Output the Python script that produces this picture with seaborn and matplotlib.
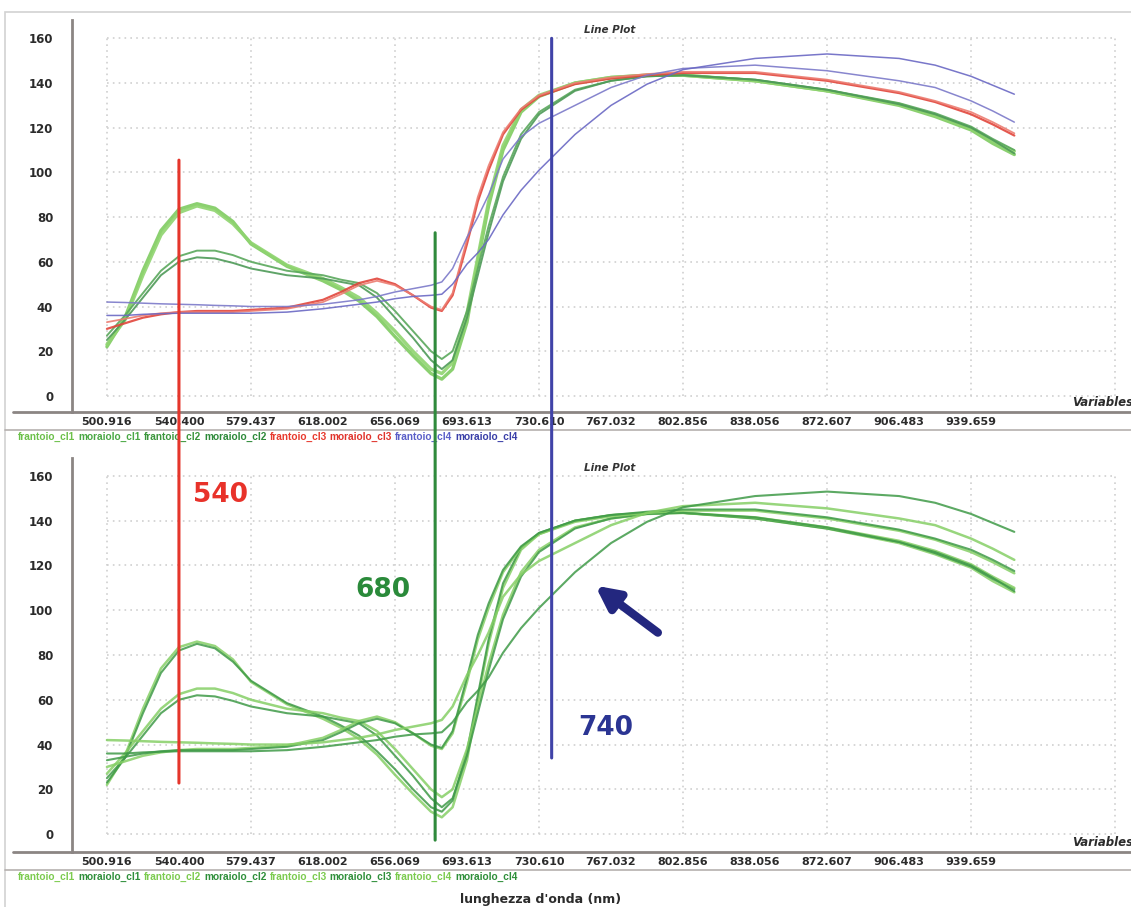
import numpy as np
import seaborn as sns
import matplotlib.pyplot as plt
from matplotlib.lines import Line2D
from matplotlib.patches import ConnectionPatch, Rectangle

sns.set_style("white")
plt.rcParams['font.family'] = ['DejaVu Sans']

# asse x: indice di variabile, etichette = lunghezze d'onda
wavelengths = [500.916, 540.400, 579.437, 618.002, 656.069, 693.613, 730.610,
               767.032, 802.856, 838.056, 872.607, 906.483, 939.659]
tick_var = [0, 20, 40, 60, 80, 100, 120, 140, 160, 180, 200, 220, 240, 260, 280]

var_idx = [0, 5, 10, 15, 20, 25, 30, 35, 40, 50, 60, 65, 70, 75, 80, 85, 90, 93,
           96, 100, 103, 106, 110, 115, 120, 130, 140, 150, 160, 180, 200, 220,
           230, 240, 246, 252]

frantoio_cl1 = [22, 35, 56, 74, 83.5, 86, 84, 78, 68, 58, 51.5, 47.5, 42.5, 35.5,
                26.5, 18, 10, 7.5, 12, 33, 60, 85, 110, 127, 134, 140, 142.5,
                143.5, 143.5, 141, 136.5, 130, 125, 119, 113, 108]
moraiolo_cl1 = [23, 34, 54, 72, 82, 85, 83, 77, 68.5, 58.5, 52.5, 48.5, 44, 37,
                29, 20, 12, 10, 15, 37, 62, 87, 112, 128, 134.5, 140, 142.5,
                143.5, 143.5, 141, 136.5, 130.5, 125.5, 119.5, 114, 109.5]
frantoio_cl2 = [27, 36, 46, 56, 62.5, 65, 65, 63, 60, 56, 54, 52, 50.5, 46,
                38, 29, 20, 16.5, 20, 38, 57, 76, 98, 117, 127, 137, 141,
                143, 143.5, 141.5, 137, 131, 126.5, 120.5, 115, 110]
moraiolo_cl2 = [25, 34, 44, 54, 60, 62, 61.5, 59.5, 57, 54, 52.5, 51, 49.5, 44,
                35, 26, 16, 12, 16, 35, 54, 73, 96, 115, 126, 136.5, 141,
                143, 143.5, 141.5, 137, 130.5, 126, 120, 114.5, 108.5]
frantoio_cl3 = [30, 32.5, 35, 36.5, 37.5, 38, 38, 38, 38.5, 39.5, 43, 46.5, 50.5, 52.5,
                50, 45, 39.5, 38, 45, 68, 87, 101, 117, 128, 134, 139.5, 142,
                143.5, 144.5, 144.5, 141, 135.5, 131.5, 126, 121.5, 116.5]
moraiolo_cl3 = [33, 34.5, 36, 37, 37.5, 37.5, 37.5, 37.5, 38, 39, 42, 45.5, 49.5, 51.5,
                49.5, 45, 40, 38.5, 46, 70, 89, 103, 118, 128.5, 134.5, 140, 142.5,
                144, 145, 145, 141.5, 136, 132, 127, 122.5, 117.5]
frantoio_cl4 = [42, 41.8, 41.5, 41.2, 41, 40.8, 40.5, 40.3, 40, 40, 41, 42, 43, 44.5,
                46.5, 48, 49.5, 51, 57, 71, 80, 90, 106, 116, 122, 130, 138,
                143.5, 146.5, 148, 145.5, 141, 138, 132, 127.5, 122.5]
moraiolo_cl4 = [36, 36, 36.5, 36.8, 37, 37, 37, 37, 37, 37.5, 39, 40, 41, 42,
                43.5, 44.5, 45, 45.5, 50, 59, 64, 70, 81, 92, 101, 117, 130,
                139.5, 146, 151, 153, 151, 148, 143, 139, 135]

names = ["frantoio_cl1", "moraiolo_cl1", "frantoio_cl2", "moraiolo_cl2",
         "frantoio_cl3", "moraiolo_cl3", "frantoio_cl4", "moraiolo_cl4"]
series = [frantoio_cl1, moraiolo_cl1, frantoio_cl2, moraiolo_cl2,
          frantoio_cl3, moraiolo_cl3, frantoio_cl4, moraiolo_cl4]

# linee verticali (nm) e loro estremi: (valore nel grafico sopra, valore nel grafico sotto)
mark_nm = [540.4, 677, 737]
mark_top = [105.5, 73, 160]
mark_bot = [22.8, -2.7, 34]
mark_colors = ["#e5352b", "#2f8a3c", "#4043a8"]

# stili
top_colors = ["#7fcb61", "#8fd46f", "#5aa85c", "#4e9a58",
              "#e2463c", "#ec7d72", "#7b79c9", "#6a68c4"]
top_widths = [2.4, 2.4, 1.4, 1.4, 1.6, 1.3, 1.1, 1.1]
top_legend_colors = ["#6cc04a", "#4aa844", "#3c963c", "#2e8a3a",
                     "#e83a2e", "#e0342c", "#5b5fc8", "#3a3fa8"]
bot_colors = ["#86cf66", "#3f9a48"] * 4
bot_legend_colors = ["#7ccb4f", "#2f8f3a"] * 4

axis_col = "#8b8583"
text_col = "#2b2b2b"
grid_col = "#d0d0d0"
legend_font = dict(family=['Liberation Sans'], weight='bold', size=7.3)

W, H = 1131, 907
fig = plt.figure(figsize=(W / 100, H / 100), dpi=100)
ax1 = fig.add_axes([72 / W, 1 - 412 / H, 1 - 72 / W, (412 - 20) / H])
ax2 = fig.add_axes([72 / W, 1 - 852 / H, 1 - 72 / W, (852 - 458) / H])

major_pos = tick_var[0::2]
minor_pos = tick_var[1::2]
labels = ["%.3f" % w for w in wavelengths] + ["", ""]
major_lab = labels[0::2]
minor_lab = labels[1::2]


def style_axis(ax, ylim):
    ax.set_xlim(-9.7, 284.4)
    ax.set_ylim(*ylim)
    # griglia a puntini
    ax.hlines(range(0, 161, 20), 0, 280, colors=grid_col, linestyles=(0, (1, 2.5)), lw=1.2, zorder=0)
    ax.vlines(major_pos, 0, 160, colors=grid_col, linestyles=(0, (1, 2.5)), lw=1.2, zorder=0)
    ax.set_xticks(major_pos)
    ax.set_xticklabels(major_lab)
    ax.set_xticks(minor_pos, minor=True)
    ax.set_xticklabels(minor_lab, minor=True)
    ax.set_yticks(range(0, 161, 20))
    ax.set_yticks(range(-4, 168, 4), minor=True)
    ax.tick_params(axis='x', which='both', direction='inout', length=5, width=1,
                   color=axis_col, pad=1, labelsize=8, labelcolor=text_col)
    ax.tick_params(axis='y', which='major', direction='out', length=9.5, width=1.2,
                   color=axis_col, pad=4, labelsize=8.5, labelcolor=text_col)
    ax.tick_params(axis='y', which='minor', direction='out', length=4, width=1,
                   color=axis_col)
    for t in ax.get_xticklabels(which='both') + ax.get_yticklabels():
        t.set_fontweight('bold')
    for s in ["top", "right"]:
        ax.spines[s].set_visible(False)
    ax.spines["left"].set_color(axis_col)
    ax.spines["left"].set_linewidth(2)
    ax.spines["bottom"].set_visible(False)
    ax.add_line(Line2D([-0.056, 1.0], [0, 0], transform=ax.transAxes, clip_on=False,
                       color=axis_col, lw=2))
    ax.set_xlabel("")
    ax.set_ylabel("")
    ax.text(0.508, 0.975, "Line Plot", transform=ax.transAxes, ha='center', va='center',
            fontsize=7.5, fontweight='bold', style='italic', color="#333333")
    ax.text(0.944, 0.008, "Variables", transform=ax.transAxes, ha='left', va='bottom',
            fontsize=8.5, fontweight='bold', style='italic', color=text_col)


def draw_lines(ax, colors, widths, alpha):
    for name, vals, c, lw in zip(names, series, colors, widths):
        sns.lineplot(x=var_idx, y=vals, ax=ax, color=c, lw=lw, alpha=alpha,
                     label=name, estimator=None, sort=False)


def add_legend(ax, colors, y_pix):
    h, l = ax.get_legend_handles_labels()
    leg = ax.legend(h, l, ncol=8, loc='center left',
                    bbox_to_anchor=(18 / W, 1 - y_pix / H), bbox_transform=fig.transFigure,
                    frameon=False, handlelength=0, handletextpad=0, columnspacing=0.3,
                    borderpad=0, borderaxespad=0, prop=legend_font)
    for txt, c in zip(leg.get_texts(), colors):
        txt.set_color(c)
    for hd in leg.legend_handles:
        hd.set_visible(False)


draw_lines(ax1, top_colors, top_widths, 0.9)
style_axis(ax1, (-7.2, 168.2))
add_legend(ax1, top_legend_colors, 437)

draw_lines(ax2, bot_colors, [1.8, 1.5] * 4, 0.85)
style_axis(ax2, (-8.0, 168.0))
add_legend(ax2, bot_legend_colors, 877)

# righe grigie sotto le etichette dell'asse x
for yp in [430, 870]:
    fig.add_artist(Line2D([5 / W, 1], [1 - yp / H, 1 - yp / H], transform=fig.transFigure,
                          color="#b5b0ae", lw=1.2))

# cornice
fig.add_artist(Rectangle((5 / W, -0.1), 1.2, 1.1 - 12 / H, transform=fig.transFigure,
                         fill=False, edgecolor="#d2d2d2", lw=1.2))

# linee verticali che attraversano i due grafici
for nm, yt, yb, c in zip(mark_nm, mark_top, mark_bot, mark_colors):
    xv = np.interp(nm, wavelengths, tick_var[:len(wavelengths)])
    con = ConnectionPatch(xyA=(xv, yt), coordsA="data", axesA=ax1,
                          xyB=(xv, yb), coordsB="data", axesB=ax2,
                          color=c, lw=2.2, zorder=5)
    fig.add_artist(con)

# etichette e freccia nel grafico inferiore
ax2.text(23.8, 151.5, "540", color="#e8322a", fontsize=19, fontweight='bold',
         ha='left', va='center')
ax2.text(68.9, 109, "680", color="#2a8a3a", fontsize=19, fontweight='bold',
         ha='left', va='center')
ax2.text(130.8, 47.4, "740", color="#2b3593", fontsize=19, fontweight='bold',
         ha='left', va='center')
ax2.annotate("", xy=(135.6, 111), xytext=(153, 90),
             arrowprops=dict(arrowstyle='-|>', lw=6, mutation_scale=34,
                             color="#23277f", shrinkA=0, shrinkB=0))

fig.text(541 / W, 1 - 899 / H, "lunghezza d'onda (nm)", ha='center', va='center',
         fontsize=9, fontweight='bold', color=text_col)

fig.savefig("out.png", dpi=100)
